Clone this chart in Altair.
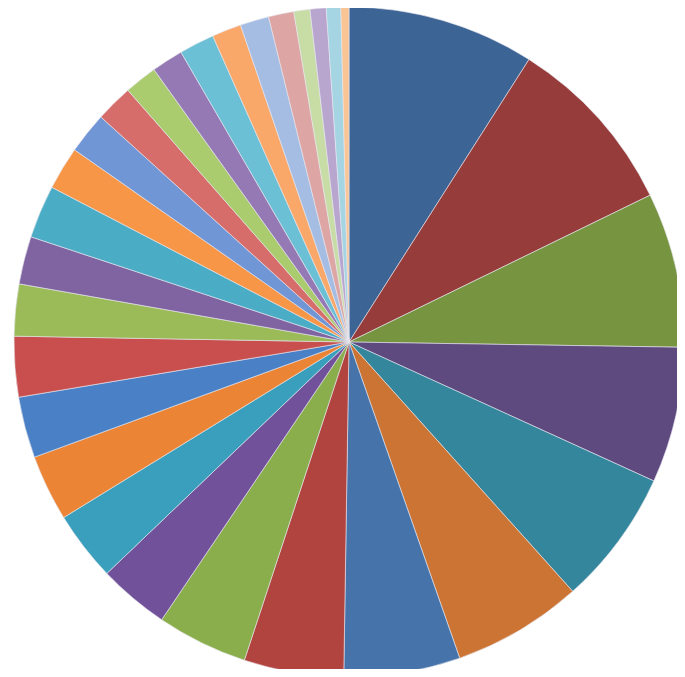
import altair as alt
import pandas as pd

categories = [f"Item {i}" for i in range(1, 31)]
values = [32.5, 31.5, 26.9, 23.6, 23.6, 22.6, 20.2, 17.3, 15.8, 12.3,
          12.1, 11.5, 10.6, 10.5, 9.0, 8.3, 9.2, 7.5, 7.2, 6.5,
          5.7, 5.5, 6.1, 5.1, 5.0, 4.4, 2.8, 2.8, 2.5, 1.4]
colors = ["#3C6494", "#963C3A", "#779441", "#5F4A80", "#33869C", "#CC7433",
          "#4573AA", "#B2443F", "#8AAE4B", "#71519A", "#3A9FBD", "#EB8535",
          "#4A80C6", "#C84F4D", "#9BBB59", "#8064A2", "#4BACC6", "#F79646",
          "#7096D6", "#D66D6A", "#AACB6E", "#9579B5", "#6CC0D6", "#F9A86A",
          "#A5BDE3", "#DDA5A3", "#C8DCA6", "#B8A6CF", "#A5D4E3", "#FAC595"]

df = pd.DataFrame({"category": categories, "value": values, "order": list(range(len(values)))})

chart = alt.Chart(df).mark_arc(
    radius=335, stroke="#e8e8f0", strokeWidth=0.6
).encode(
    theta=alt.Theta("value:Q", stack=True),
    order=alt.Order("order:Q"),
    color=alt.Color("category:N", scale=alt.Scale(domain=categories, range=colors), legend=None),
    x=alt.value(341),
    y=alt.value(334),
).properties(
    width=669, height=661, padding=0, autosize=alt.AutoSizeParams(type="none")
).configure_view(stroke=None)

chart.save("out.html", embed_options={"renderer": "svg", "actions": False})
